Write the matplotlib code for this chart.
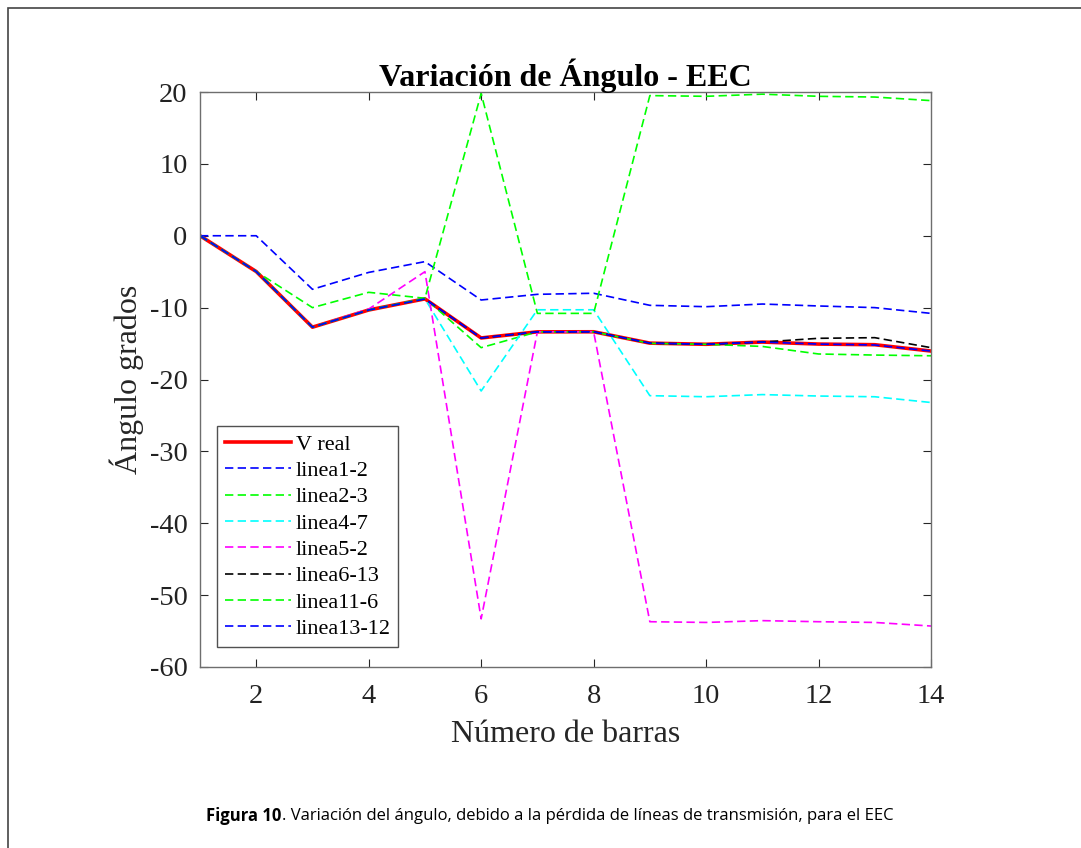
import matplotlib
matplotlib.use('Agg')
import matplotlib.pyplot as plt
from matplotlib.patches import Rectangle

plt.rcParams['axes.unicode_minus'] = False
plt.rcParams['font.family'] = ['Liberation Serif', 'DejaVu Serif']

# Datos
barras = list(range(1, 15))
v_real = [0, -4.98, -12.72, -10.33, -8.78, -14.22, -13.37, -13.36, -14.94, -15.10, -14.79, -15.07, -15.16, -16.04]
linea1_2 = [0, 0, -7.45, -5.1, -3.6, -8.94, -8.15, -8.0, -9.68, -9.87, -9.5, -9.77, -10.0, -10.8]
linea2_3 = [0, -4.98, -10.0, -7.87, -8.7, -15.57, -13.37, -13.36, -14.97, -15.1, -15.4, -16.45, -16.6, -16.7]
linea4_7 = [0, -4.98, -12.72, -10.33, -8.78, -21.6, -10.3, -10.3, -22.25, -22.4, -22.1, -22.3, -22.4, -23.2]
linea5_2 = [0, -4.98, -12.72, -10.2, -5.0, -53.3, -13.37, -13.36, -53.7, -53.8, -53.55, -53.7, -53.8, -54.3]
linea6_13 = [0, -4.98, -12.72, -10.33, -8.78, -14.22, -13.37, -13.36, -14.94, -15.10, -14.79, -14.27, -14.18, -15.57]
linea11_6 = [0, -4.98, -12.72, -10.33, -8.7, 19.8, -10.8, -10.8, 19.5, 19.4, 19.7, 19.4, 19.3, 18.8]
linea13_12 = [0, -4.98, -12.72, -10.33, -8.78, -14.22, -13.37, -13.36, -14.94, -15.10, -14.79, -15.07, -15.2, -16.04]

series = [
    ('linea1-2', linea1_2, '#0000FF'),
    ('linea2-3', linea2_3, '#00FF00'),
    ('linea4-7', linea4_7, '#00FFFF'),
    ('linea5-2', linea5_2, '#FF00FF'),
    ('linea6-13', linea6_13, '#000000'),
    ('linea11-6', linea11_6, '#00FF00'),
    ('linea13-12', linea13_12, '#0000FF'),
]

fig = plt.figure(figsize=(10.81, 8.48), dpi=100)
ax = fig.add_axes((200 / 1081, 1 - 667 / 848, 731 / 1081, 575 / 848))

ax.plot(barras, v_real, color='#FF0000', lw=2.6, label='V real')
for nombre, valores, color in series:
    ax.plot(barras, valores, color=color, lw=1.2, ls='--', dashes=(5, 2.6), label=nombre)

ax.set_xlim(1, 14)
ax.set_ylim(-60, 20)
ax.set_xticks(range(2, 15, 2))
ax.set_yticks(range(-60, 21, 10))
ax.tick_params(direction='in', length=6, width=0.8, top=True, right=True,
               labelsize=20.5, colors='#262626')
ax.tick_params(axis='x', pad=12)
ax.tick_params(axis='y', pad=9)
for lbl in ax.get_xticklabels() + ax.get_yticklabels():
    lbl.set_color('#222222')
for s in ax.spines.values():
    s.set_color('#6e6e6e')
    s.set_linewidth(1.0)

ax.set_title('Variación de Ángulo - EEC', fontsize=23, fontweight='bold', pad=4)
ax.set_xlabel('Número de barras', fontsize=23, color='#262626', labelpad=8)
ax.set_ylabel('Ángulo grados', fontsize=23, color='#262626', labelpad=4)

leg = ax.legend(loc='lower left', bbox_to_anchor=(0.023, 0.035), fontsize=16,
                frameon=True, fancybox=False, edgecolor='#262626', handlelength=3.0,
                labelspacing=0.26, borderpad=0.35, handletextpad=0.2, borderaxespad=0)
leg.get_frame().set_linewidth(1.0)

# Marco de la figura (solo bordes superior e izquierdo visibles)
fig.patches.append(Rectangle((8 / 1081, -0.1), 1.2, 1 - 8 / 848 + 0.1,
                             transform=fig.transFigure, fill=False,
                             edgecolor='#444444', lw=1.2))

# Pie de figura: parte en negrita y resto normal
fig.canvas.draw()
r = fig.canvas.get_renderer()
cap_y = 1 - 816 / 848
t1 = fig.text(0, cap_y, 'Figura 10', fontsize=12, fontweight='bold',
              family=['Open Sans', 'DejaVu Sans'], va='center')
t2 = fig.text(0, cap_y, '. Variación del ángulo, debido a la pérdida de líneas de transmisión, para el EEC',
              fontsize=12, family=['Open Sans', 'DejaVu Sans'], va='center')
w1 = t1.get_window_extent(r).width
w2 = t2.get_window_extent(r).width
x0 = (550 - (w1 + w2) / 2)
t1.set_x(x0 / 1081)
t2.set_x((x0 + w1) / 1081)

fig.savefig('out.png', dpi=100)
